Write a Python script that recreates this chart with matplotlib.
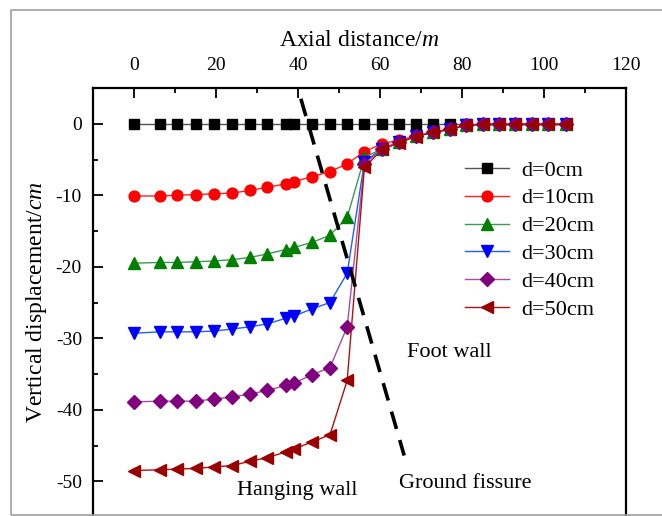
import matplotlib
matplotlib.use("Agg")
import matplotlib.pyplot as plt
from matplotlib.patches import Rectangle
from matplotlib.ticker import MultipleLocator

plt.rcParams['font.family'] = ['Liberation Serif', 'DejaVu Serif']
plt.rcParams['mathtext.fontset'] = 'custom'
plt.rcParams['mathtext.rm'] = 'Liberation Serif'
plt.rcParams['mathtext.it'] = 'Liberation Serif:italic'
plt.rcParams['axes.unicode_minus'] = False

# axial distance of the measuring points (m)
x = [0, 6.3, 10.5, 15, 19.5, 24, 28.3, 32.5, 37, 39, 43.4, 47.8, 52,
     56.2, 60.5, 64.6, 68.8, 73, 77, 81, 85, 89, 93, 97, 101, 105.4]

d0 = [0] * 26
d10 = [-10.1, -10.1, -10.0, -9.9, -9.8, -9.7, -9.3, -8.9, -8.4, -8.1, -7.4, -6.7, -5.6,
       -3.9, -2.8, -2.3, -1.7, -1.2, -0.75, -0.2, -0.05, 0, 0, 0, 0, 0]
d20 = [-19.5, -19.4, -19.4, -19.3, -19.2, -19.0, -18.7, -18.2, -17.6, -17.3, -16.6, -15.6, -13.1,
       -4.7, -3.5, -2.6, -1.7, -1.2, -0.75, -0.2, -0.1, -0.1, -0.1, -0.1, -0.1, -0.1]
d30 = [-29.3, -29.1, -29.1, -29.1, -29.0, -28.7, -28.4, -28.0, -27.2, -26.9, -25.9, -25.0, -20.9,
       -5.3, -3.5, -2.6, -1.7, -1.2, -0.75, -0.2, -0.1, -0.1, -0.1, -0.1, -0.1, -0.1]
d40 = [-38.9, -38.8, -38.8, -38.8, -38.5, -38.2, -37.8, -37.3, -36.6, -36.3, -35.1, -34.1, -28.4,
       -5.6, -3.5, -2.6, -1.7, -1.2, -0.75, -0.2, -0.1, -0.1, -0.1, -0.1, -0.1, -0.1]
d50 = [-48.5, -48.4, -48.3, -48.2, -48.0, -47.8, -47.2, -46.7, -45.9, -45.5, -44.5, -43.5, -35.9,
       -6.1, -3.6, -2.7, -1.8, -1.2, -0.8, -0.2, -0.1, -0.1, -0.1, -0.1, -0.1, -0.1]

series = [d0, d10, d20, d30, d40, d50]
labels = ['d=0cm', 'd=10cm', 'd=20cm', 'd=30cm', 'd=40cm', 'd=50cm']
marker_colors = ['#000000', '#ff0000', '#007f00', '#0000ff', '#800080', '#990000']
line_colors = ['#555555', '#ff2020', '#3a9a55', '#2060ff', '#a050a0', '#b01010']
markers = ['s', 'o', '^', 'v', 'D', '<']
msizes = [6.5, 7.8, 8.2, 8.2, 7.2, 8.2]

# ground fissure trace
fissure_x = [40.7, 65.9]
fissure_y = [3.5, -46.4]

fig = plt.figure(figsize=(6.62, 5.16), dpi=100)
ax = fig.add_axes([93 / 662, -1 / 516, 533 / 662, 429 / 516])

for ys, lab, mc, lc, mk, ms in zip(series, labels, marker_colors, line_colors, markers, msizes):
    ax.plot(x, ys, color=lc, lw=1.0, marker=mk, ms=ms,
            markerfacecolor=mc, markeredgecolor=mc, label=lab)

ax.plot(fissure_x, fissure_y, color='black', lw=2.6, linestyle=(0, (5, 3.2)))

ax.set_xlim(-10, 120)
ax.set_ylim(-55, 5)
ax.xaxis.set_major_locator(MultipleLocator(20))
ax.xaxis.set_minor_locator(MultipleLocator(10))
ax.yaxis.set_major_locator(MultipleLocator(10))
ax.yaxis.set_minor_locator(MultipleLocator(5))
ax.xaxis.tick_top()
ax.xaxis.set_label_position('top')
ax.tick_params(axis='both', which='both', direction='in', labelsize=14)
ax.tick_params(which='major', length=7, width=1.3)
ax.tick_params(which='minor', length=3.5, width=1.3)
ax.tick_params(axis='y', which='both', right=False, pad=8)
ax.tick_params(axis='x', pad=10)
for s in ax.spines.values():
    s.set_linewidth(1.6)

ax.set_xlabel('Axial distance/$m$', fontsize=17, labelpad=8)
ax.set_ylabel('Vertical displacement/$cm$', fontsize=17, labelpad=5)

ax.text(77, -32, 'Foot wall', fontsize=16, ha='center', va='center')
ax.text(39.8, -51.3, 'Hanging wall', fontsize=16, ha='center', va='center')
ax.text(80.7, -50.3, 'Ground fissure', fontsize=16, ha='center', va='center')

ax.legend(loc='upper left', bbox_to_anchor=(0.677, 0.858), frameon=False, fontsize=16,
          handlelength=2.0, handletextpad=0.55, labelspacing=0.33, borderpad=0)

fig.add_artist(Rectangle((11 / 662, 1 / 516), 1.0, 505 / 516, transform=fig.transFigure,
                         fill=False, edgecolor='#a0a0a0', lw=1.2))

fig.savefig('out.png', dpi=100)
